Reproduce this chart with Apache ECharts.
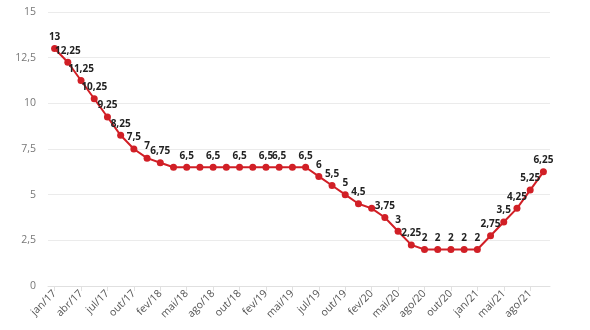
<!DOCTYPE html>
<html>
<head>
<meta charset="utf-8">
<script src="https://cdn.jsdelivr.net/npm/echarts@6/dist/echarts.min.js"></script>
<style>
  html, body { margin: 0; padding: 0; background: #fff; }
  #chart { width: 590px; height: 330px; }
</style>
</head>
<body>
<div id="chart"></div>
<script>
// Copom meetings and the Selic target rate (% a.a.)
const meetings = [
  'jan/17','fev/17','abr/17','mai/17','jul/17','set/17','out/17','dez/17',
  'fev/18','mar/18','mai/18','jun/18','ago/18','set/18','out/18','dez/18',
  'fev/19','mar/19','mai/19','jun/19','jul/19','set/19','out/19','dez/19',
  'fev/20','mar/20','mai/20','jun/20','ago/20','set/20','out/20','dez/20',
  'jan/21','mar/21','mai/21','jun/21','ago/21','set/21'
];
const selic = [
  13, 12.25, 11.25, 10.25, 9.25, 8.25, 7.5, 7,
  6.75, 6.5, 6.5, 6.5, 6.5, 6.5, 6.5, 6.5,
  6.5, 6.5, 6.5, 6.5, 6, 5.5, 5, 4.5,
  4.25, 3.75, 3, 2.25, 2, 2, 2, 2,
  2, 2.75, 3.5, 4.25, 5.25, 6.25
];
const yTicks = [0, 2.5, 5, 7.5, 10, 12.5, 15];
// meetings whose value label is left out to avoid crowding
const quietLabels = [9, 11, 13, 15, 18, 24];

const ptBR = v => String(v).replace('.', ',');

const chart = echarts.init(document.getElementById('chart'), null, { renderer: 'canvas' });
chart.setOption({
  animation: false,
  textStyle: { fontFamily: 'Open Sans' },
  grid: { left: 48, right: 40, top: 12, bottom: 44 },
  xAxis: {
    type: 'category',
    data: meetings,
    boundaryGap: true,
    axisLine: { lineStyle: { color: '#e0e0e0', width: 1 } },
    axisTick: { show: true, alignWithLabel: true, interval: 1, length: 5, lineStyle: { color: '#e0e0e0' } },
    axisLabel: { interval: 1, rotate: 45, color: '#555', fontSize: 10.5, margin: 6 }
  },
  yAxis: {
    type: 'value',
    min: yTicks[0],
    max: yTicks[yTicks.length - 1],
    interval: 2.5,
    axisLine: { show: false },
    axisTick: { show: false },
    axisLabel: { color: '#777', fontSize: 10.5, margin: 12, formatter: v => ptBR(v) },
    splitLine: { lineStyle: { color: '#ebebeb', width: 1 } }
  },
  series: [{
    type: 'line',
    data: selic.map((v, i) => ({
      value: v,
      label: { show: !quietLabels.includes(i) }
    })),
    symbol: 'circle',
    symbolSize: 7,
    lineStyle: { color: '#d11f26', width: 2 },
    itemStyle: { color: '#d11f26' },
    label: {
      show: true,
      position: 'top',
      distance: 3,
      color: '#222',
      fontSize: 10,
      fontWeight: 'bold',
      formatter: p => ptBR(p.value)
    }
  }]
});
</script>
</body>
</html>
